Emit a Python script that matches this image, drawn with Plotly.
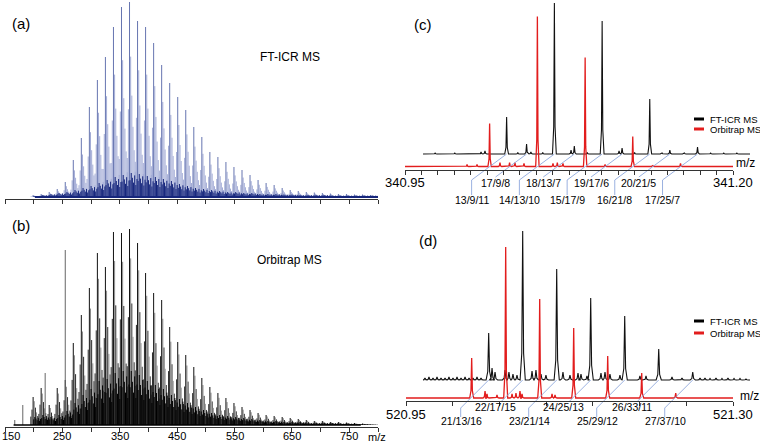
import plotly.graph_objects as go

W, H = 760, 444
FONT = "Liberation Sans, Arial, sans-serif"

# ---------------- panels (a)/(b): broadband spectra ----------------
cluster_mz = [199, 213, 227, 241, 255, 269, 283, 297, 311, 325, 339, 353, 367, 381,
              395, 409, 423, 437, 451, 465, 479, 493, 507, 521, 535, 549, 563, 577,
              591, 605, 619, 633, 647, 661, 675, 689, 703, 717, 731, 745, 759, 773, 787]
a_main = [2, 3, 5, 8, 15, 37, 59, 90, 117, 140, 170, 190, 195, 176,
          170, 154, 132, 114, 100, 87, 70, 60, 45, 40, 35, 30, 27, 22,
          17, 14, 12, 9, 7, 6, 5, 4.5, 4, 3.5, 3, 3, 2.5, 2.5, 2]
a_dark = [1, 2, 3, 4, 5, 7, 9, 11, 14, 17, 20, 22, 24, 23,
          21, 20, 18, 16, 13, 11, 9, 8, 7, 6, 5, 5, 4, 4,
          3, 3, 3, 2.5, 2.5, 2, 2, 2, 2, 1.5, 1.5, 1.5, 1.5, 1.5, 1.5]
b_main = [28, 37, 20, 37, 45, 82, 110, 137, 172, 158, 193, 192, 196, 182,
          152, 132, 125, 98, 83, 70, 58, 47, 38, 32, 27, 22, 18, 15,
          12, 10, 9, 8, 7, 6, 5, 4, 4, 3, 3, 2.5, 2, 1.5, 0.5]
b_dark = [8, 10, 8, 10, 14, 22, 30, 36, 44, 46, 52, 54, 54, 50,
          44, 40, 36, 30, 26, 22, 18, 15, 12, 10, 9, 8, 7, 6,
          5, 4, 4, 3, 3, 3, 2, 2, 2, 2, 1.5, 1.5, 1, 1, 0.5]
b_extra_mz = [167, 181, 220, 255]
b_extra_h = [5, 20, 52, 175]
sub_offset = [-4, -2, 2, 4, 6, 8, 10]
a_sub_ratio = [0.2, 0.45, 0.72, 0.52, 0.36, 0.24, 0.13]
b_sub_ratio = [0.3, 0.55, 0.85, 0.62, 0.45, 0.32, 0.2]
b_sub_gray = [False, False, True, False, True, False, False]
dark_offset = [1, 3, 5, 7, 9, 11, 13]
dark_ratio = [0.7, 1.0, 0.8, 0.6, 0.9, 0.5, 0.75]
overview_ticks = [150, 200, 250, 300, 350, 400, 450, 500, 550, 600, 650, 700, 750, 800]
overview_label_vals = [250, 350, 450, 550, 650, 750]
overview_label_txt = ["250", "350", "450", "550", "650", "750"]

# ---------------- panel (c): m/z 340.95 - 341.20 ----------------
c_lab_mz = [341.0145, 341.0297, 341.0509, 341.0661, 341.0873, 341.1025, 341.1236, 341.1389, 341.1600]
c_lab_txt = ["13/9/11", "17/9/8", "14/13/10", "18/13/7", "15/17/9", "19/17/6", "16/21/8", "20/21/5", "17/25/7"]
c_lab_row = [2, 1, 2, 1, 2, 1, 2, 1, 2]
c_red_mz = [340.9973, 341.0049, 341.0145, 341.0224, 341.0297, 341.0338, 341.0407, 341.0509,
            341.0628, 341.0661, 341.0704, 341.0873, 341.1025, 341.1236, 341.1389, 341.1600]
c_red_h = [2, 2, 43, 4, 4, 4, 3, 150, 3, 4, 3, 109, 2, 30, 1, 3]
c_blk_mz = [340.9600, 340.9750, 340.9950, 340.9980, 341.0145, 341.0230, 341.0297, 341.0330,
            341.0420, 341.0509, 341.0636, 341.0661, 341.0760, 341.0873, 341.1002, 341.1025,
            341.1120, 341.1236, 341.1330, 341.1389, 341.1500, 341.1600, 341.1700, 341.1800, 341.1900]
c_blk_h = [1, 1, 2, 3, 37, 1.5, 10, 2, 1.5, 151, 4, 8, 1.5, 133, 3, 6,
           1.5, 55, 1, 4, 1, 7, 1, 1, 1]
c_ticks = [340.95, 340.9625, 340.975, 340.9875, 341.0, 341.0125, 341.025, 341.0375, 341.05,
           341.0625, 341.075, 341.0875, 341.10, 341.1125, 341.125, 341.1375, 341.15,
           341.1625, 341.175, 341.1875, 341.20]
c_end_vals = [340.95, 341.20]
c_end_txt = ["340.95", "341.20"]

# ---------------- panel (d): m/z 520.95 - 521.30 ----------------
d_lab_mz = [521.0203, 521.0567, 521.0931, 521.1295, 521.1659, 521.2023, 521.2387]
d_lab_txt = ["21/13/16", "22/17/15", "23/21/14", "24/25/13", "25/29/12", "26/33/11", "27/37/10"]
d_lab_row = [2, 1, 2, 1, 2, 1, 2]
d_red_mz = [521.0203, 521.0346, 521.0367, 521.0474, 521.0567, 521.0635, 521.0677, 521.0720,
            521.0742, 521.0931, 521.1063, 521.1095, 521.1295, 521.1659, 521.2023, 521.2387]
d_red_h = [40, 7, 4, 3, 151, 4, 5, 7, 4, 99, 4, 3, 70, 42, 25, 5]
d_blk_mz = [520.9521, 520.9564, 520.9607, 520.9650, 520.9693, 520.9736, 520.9778, 520.9821,
            520.9864, 520.9907, 520.9950, 520.9993, 521.0035, 521.0078, 521.0121,
            521.0203, 521.0239, 521.0271, 521.0378, 521.0420, 521.0463, 521.0506,
            521.0567, 521.0667, 521.0709, 521.0763, 521.0816,
            521.0931, 521.0998, 521.1073, 521.1159, 521.1191, 521.1255,
            521.1295, 521.1405, 521.1448, 521.1501, 521.1608,
            521.1659, 521.1822, 521.1887, 521.2023, 521.2165, 521.2272, 521.2387,
            521.2465, 521.2518, 521.2572, 521.2636, 521.2700, 521.2764, 521.2829, 521.2893, 521.2957]
d_blk_h = [2, 3, 2, 3, 2, 2, 3, 2, 3, 2, 3, 2, 2, 3, 2,
           47, 12, 8, 10, 8, 6, 5,
           149, 9, 10, 6, 5,
           111, 8, 5, 7, 6, 4,
           82, 7, 8, 6, 5,
           64, 4, 4, 31, 3, 2, 8,
           2, 2, 1.5, 2, 1.5, 2, 1.5, 1.5, 1]
d_ticks = [520.95, 521.0, 521.05, 521.10, 521.15, 521.20, 521.25, 521.30]
d_end_vals = [520.95, 521.30]
d_end_txt = ["520.95", "521.30"]


# ---------------- helpers ----------------
def px(x):
    return x / W


def py(y):
    return 1 - y / H


def sticks(xs, hs):
    X, Y = [], []
    for x, h in zip(xs, hs):
        X += [x, x, None]
        Y += [0, h, None]
    return X, Y


def profile(mzs, hs, hw, x0, x1):
    X, Y = [x0], [0]
    for m, h in sorted(zip(mzs, hs)):
        X += [m - hw, m - hw * 0.35, m, m + hw * 0.35, m + hw]
        Y += [0, h * 0.18, h, h * 0.18, 0]
    X.append(x1)
    Y.append(0)
    return X, Y


fig = go.Figure()


def add_line(X, Y, color, width, xa, ya):
    fig.add_trace(go.Scatter(x=X, y=Y, mode="lines", line=dict(color=color, width=width),
                             xaxis=xa, yaxis=ya, hoverinfo="skip", showlegend=False))


# ---- (a) ----
sx, sh = [], []
for m, h in zip(cluster_mz, a_main):
    for o, r in zip(sub_offset, a_sub_ratio):
        sx.append(m + o)
        sh.append(h * r)
X, Y = sticks(sx, sh)
add_line(X, Y, "#a3acd6", 1, "x", "y")
X, Y = sticks(cluster_mz, a_main)
add_line(X, Y, "#6675b0", 1, "x", "y")
dx_, dh_ = [], []
for m, h in zip(cluster_mz, a_dark):
    for o, r in zip(dark_offset, dark_ratio):
        dx_.append(m + o)
        dh_.append(h * r)
X, Y = sticks(dx_, dh_)
add_line(X, Y, "#16267c", 1, "x", "y")
add_line([202, 800], [0, 0], "#16267c", 2, "x", "y")

# ---- (b) ----
gx, gh, kx, kh = [], [], [], []
for m, h in zip(cluster_mz, b_main):
    for o, r, g in zip(sub_offset, b_sub_ratio, b_sub_gray):
        if g:
            gx.append(m + o)
            gh.append(h * r)
        else:
            kx.append(m + o)
            kh.append(h * r)
X, Y = sticks(kx, kh)
add_line(X, Y, "#2a2a2a", 1, "x2", "y2")
X, Y = sticks(gx, gh)
add_line(X, Y, "#8a8a8a", 1, "x2", "y2")
X, Y = sticks(cluster_mz, b_main)
add_line(X, Y, "#111111", 1, "x2", "y2")
X, Y = sticks(b_extra_mz, b_extra_h)
add_line(X, Y, "#666666", 1, "x2", "y2")
dx_, dh_ = [], []
for m, h in zip(cluster_mz, b_dark):
    for o, r in zip(dark_offset, dark_ratio):
        dx_.append(m + o)
        dh_.append(h * r)
X, Y = sticks(dx_, dh_)
add_line(X, Y, "#000000", 1, "x2", "y2")
add_line([165, 770], [0, 0], "#000000", 1.5, "x2", "y2")

# ---- (c) ----
C_SCALE = 1312.0  # px per m/z unit
X, Y = profile(c_blk_mz, c_blk_h, 1.9 / C_SCALE, 340.9508, 341.2015)
add_line(X, Y, "#111111", 1.1, "x3", "y3")
X, Y = profile(c_red_mz, c_red_h, 1.7 / C_SCALE, 340.9485, 341.2)
add_line(X, Y, "#e21d1d", 1.3, "x4", "y4")
LX, LY = [], []
for m, row in zip(c_lab_mz, c_lab_row):
    bx = m + 17 / C_SCALE
    if row == 2:
        lx = bx - 35 / C_SCALE
        LX += [bx, lx, lx, None]
        LY += [12.5, -13.5, -28.5, None]
    else:
        lx = bx - 31 / C_SCALE
        LX += [bx, lx, None]
        LY += [12.5, -10.5, None]
add_line(LX, LY, "#8ea8dc", 0.9, "x4", "y4")

# ---- (d) ----
D_SCALE = 934.3
X, Y = profile(d_blk_mz, d_blk_h, 2.6 / D_SCALE, 520.9505, 521.302)
add_line(X, Y, "#111111", 1.1, "x5", "y5")
X, Y = profile(d_red_mz, d_red_h, 2.0 / D_SCALE, 520.949, 521.30)
add_line(X, Y, "#e21d1d", 1.3, "x6", "y6")
LX, LY = [], []
for m, row in zip(d_lab_mz, d_lab_row):
    bx = m + 17 / D_SCALE
    if row == 2:
        lx = bx - 28 / D_SCALE
        LX += [bx, lx, lx, None]
        LY += [18, -10, -19, None]
    else:
        lx = bx - 21 / D_SCALE
        LX += [bx, lx, None]
        LY += [18, -3, None]
add_line(LX, LY, "#8ea8dc", 0.9, "x6", "y6")

annotations = []


def ann(text, x, y, size, xanchor="center", xref="paper", yref="paper", color="black"):
    annotations.append(dict(text=text, x=x, y=y, xref=xref, yref=yref, showarrow=False,
                            xanchor=xanchor, yanchor="middle",
                            font=dict(family=FONT, size=size, color=color)))


for m, t, row in zip(c_lab_mz, c_lab_txt, c_lab_row):
    bx = m + 17 / C_SCALE
    if row == 2:
        ann(t, bx - 35 / C_SCALE, -33.5, 10.5, xref="x4", yref="y4")
    else:
        ann(t, bx - 31 / C_SCALE, -16.5, 10.5, xref="x4", yref="y4")
for m, t, row in zip(d_lab_mz, d_lab_txt, d_lab_row):
    bx = m + 17 / D_SCALE
    if row == 2:
        ann(t, bx - 27 / D_SCALE, -23, 10.5, xref="x6", yref="y6")
    else:
        ann(t, bx - 27 / D_SCALE, -9, 10.5, xref="x6", yref="y6")

# axis labels
ann("150", px(0), py(436), 11, xanchor="left")
for v, t in zip(overview_label_vals, overview_label_txt):
    ann(t, v, py(436), 11, xref="x2")
for v, t in zip(c_end_vals, c_end_txt):
    ann(t, v, py(182), 13, xref="x4")
for v, t in zip(d_end_vals, d_end_txt):
    ann(t, v, py(414), 13, xref="x6")

ann("(a)", px(21), py(23), 15)
ann("FT-ICR MS", px(290), py(57), 12)
ann("(b)", px(21), py(225), 15)
ann("Orbitrap MS", px(289), py(260), 12)
ann("(c)", px(423), py(25), 15)
ann("(d)", px(428), py(240), 15)
ann("m/z", px(377), py(437), 11)
ann("m/z", px(745), py(163), 12)
ann("m/z", px(749), py(396), 12)
ann("FT-ICR MS", px(708), py(119), 9.5, xanchor="left")
ann("Orbitrap MS", px(708), py(129), 9.5, xanchor="left")
ann("FT-ICR MS", px(708), py(321), 9.5, xanchor="left")
ann("Orbitrap MS", px(708), py(333), 9.5, xanchor="left")

shapes = []
for yy, col in [(119, "#000000"), (129, "#e21d1d"), (321, "#000000"), (333, "#e21d1d")]:
    shapes.append(dict(type="line", xref="paper", yref="paper", x0=px(694), x1=px(704),
                       y0=py(yy), y1=py(yy), line=dict(color=col, width=3)))

AX = "#333333"
hidden = dict(visible=False, showgrid=False, zeroline=False, fixedrange=True, automargin=False)


def xax(domain, rng, **kw):
    d = dict(domain=domain, range=rng, showline=True, linecolor=AX, linewidth=1,
             ticks="outside", ticklen=4, tickwidth=1, tickcolor=AX, showgrid=False,
             zeroline=False, fixedrange=True, automargin=False, showticklabels=False,
             tickmode="array")
    d.update(kw)
    return d


fig.update_layout(
    template="none",
    width=W, height=H, autosize=False, margin=dict(l=0, r=0, t=0, b=0, pad=0),
    paper_bgcolor="white", plot_bgcolor="rgba(0,0,0,0)", showlegend=False,
    font=dict(family=FONT),
    xaxis=xax([px(5), px(378)], [150, 800], anchor="y", tickvals=overview_ticks),
    yaxis=dict(domain=[py(199), py(2)], range=[-2, 195], **hidden),
    xaxis2=xax([px(5), px(378)], [150, 800], anchor="y2", tickvals=overview_ticks),
    yaxis2=dict(domain=[py(427), py(229)], range=[-2, 196], **hidden),
    xaxis3=dict(domain=[px(422), px(750)], range=[340.95, 341.20], anchor="y3", **hidden),
    yaxis3=dict(domain=[py(192.5), py(0)], range=[-38.5, 154], anchor="x3", **hidden),
    xaxis4=xax([px(405), px(733)], [340.95, 341.20], anchor="free", position=py(170),
               tickvals=c_ticks),
    yaxis4=dict(domain=[py(205), py(0)], range=[-38.5, 166.5], anchor="x4", **hidden),
    xaxis5=dict(domain=[px(423), px(750)], range=[520.95, 521.30], anchor="y5", **hidden),
    yaxis5=dict(domain=[py(412), py(202)], range=[-32, 178], anchor="x5", **hidden),
    xaxis6=xax([px(406), px(733)], [520.95, 521.30], anchor="free", position=py(401),
               tickvals=d_ticks),
    yaxis6=dict(domain=[py(430), py(220)], range=[-32, 178], anchor="x6", **hidden),
    annotations=annotations,
    shapes=shapes,
)

fig.write_html("out.html", config={"displayModeBar": False},
               post_script="document.body.style.margin='0px';")
